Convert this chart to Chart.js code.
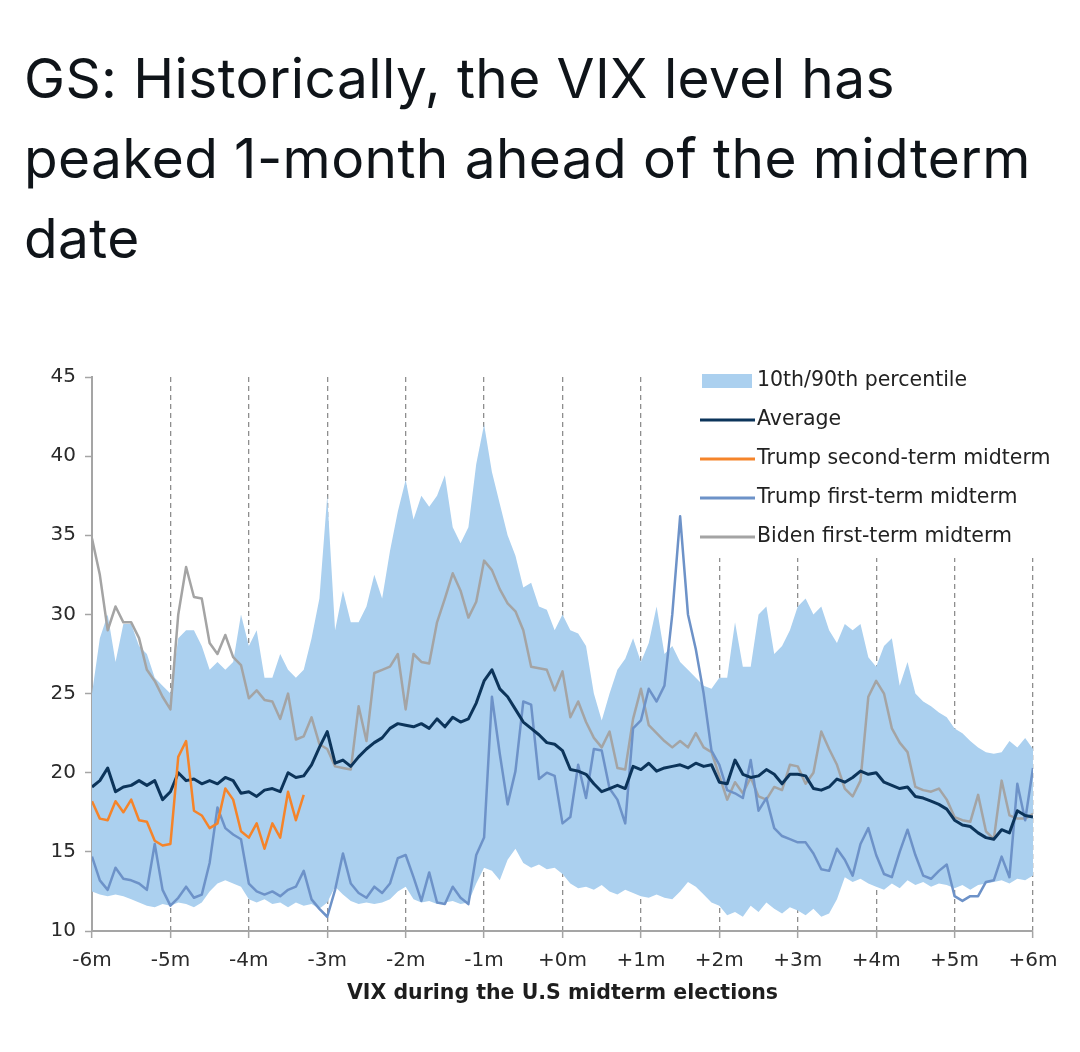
<!DOCTYPE html>
<html>
<head>
<meta charset="utf-8">
<script src="https://cdn.jsdelivr.net/npm/chart.js@4"></script>
<style>
  html, body { margin: 0; padding: 0; background: #fff; }
  body { width: 1080px; height: 1052px; position: relative; overflow: hidden; }
  #title {
    position: absolute; left: 24px; top: 38px;
    font-family: Inter, "Noto Sans", sans-serif; font-size: 55px; line-height: 80px;
    color: #0f1419; letter-spacing: 0.4px;
  }
  #chartBox { position: absolute; left: 30px; top: 355px; width: 1040px; height: 680px; }
</style>
</head>
<body>
<div id="title">GS: Historically, the VIX level has<br>peaked 1-month ahead of the midterm<br>date</div>
<div id="chartBox"><canvas id="vixChart" width="1040" height="680"></canvas></div>

<script>
// x runs from -6m to +6m in steps of 0.1 month
const startMonth = -6;
const monthStep = 0.1;
const monthLabels = ["-6m", "-5m", "-4m", "-3m", "-2m", "-1m", "+0m", "+1m", "+2m", "+3m", "+4m", "+5m", "+6m"];

const pct90 = [
  25, 28.5, 30, 27, 29.4, 29.4, 28, 27.5, 26, 25.5,
  25, 28.5, 29, 29, 28, 26.5, 27, 26.5, 27, 30,
  28, 29, 26, 26, 27.5, 26.5, 26, 26.5, 28.5, 31,
  37.5, 29, 31.5, 29.5, 29.5, 30.5, 32.5, 31, 34, 36.5,
  38.5, 36, 37.5, 36.8, 37.5, 38.8, 35.5, 34.5, 35.5, 39.5,
  42, 39, 37, 35, 33.7, 31.7, 32, 30.5, 30.3, 29,
  30, 29, 28.8, 28, 25, 23.3, 25, 26.5, 27.2, 28.5,
  27, 28.2, 30.5, 27.5, 28, 27, 26.5, 26, 25.5, 25.3,
  26, 26, 29.5, 26.7, 26.7, 30, 30.5, 27.5, 28, 29,
  30.5, 31, 30, 30.5, 29, 28.2, 29.4, 29, 29.4, 27.3,
  26.7, 28, 28.5, 25.5, 27, 25, 24.5, 24.2, 23.8, 23.5,
  22.8, 22.5, 22, 21.6, 21.3, 21.2, 21.3, 22, 21.6, 22.2,
  21.5
];

const pct10 = [
  12.5, 12.3, 12.2, 12.3, 12.2, 12.0, 11.8, 11.6, 11.5, 11.7,
  11.6, 11.8, 11.7, 11.5, 11.8, 12.5, 13.0, 13.2, 13.0, 12.8,
  12.0, 11.8, 12.0, 11.7, 11.8, 11.5, 11.8, 11.6, 11.7, 11.4,
  11.8, 12.8, 12.3, 11.9, 11.7, 11.8, 11.7, 11.8, 12.0, 12.5,
  12.8, 12.0, 11.8, 11.9, 11.7, 11.8, 11.9, 11.7, 11.8, 13.0,
  14.0, 13.8, 13.2, 14.5, 15.2, 14.3, 14.0, 14.2, 13.9, 14.0,
  13.6, 13.0, 12.7, 12.8, 12.6, 12.9, 12.5, 12.3, 12.6, 12.4,
  12.2, 12.1, 12.3, 12.1, 12.0, 12.5, 13.1, 12.8, 12.3, 11.8,
  11.6, 11.0, 11.2, 10.9, 11.6, 11.2, 11.8, 11.4, 11.1, 11.5,
  11.3, 11.0, 11.4, 10.9, 11.1, 12.0, 13.4, 13.1, 13.3, 13.0,
  12.8, 12.6, 13.0, 12.7, 13.2, 12.9, 13.1, 12.8, 13.0, 12.9,
  12.7, 12.9, 12.6, 12.9, 13.0, 13.1, 13.2, 13.0, 13.3, 13.2,
  13.5
];

const average = [
  19.1, 19.5, 20.3, 18.8, 19.1, 19.2, 19.5, 19.2, 19.5, 18.3,
  18.8, 20.0, 19.5, 19.6, 19.3, 19.5, 19.3, 19.7, 19.5, 18.7,
  18.8, 18.5, 18.9, 19.0, 18.8, 20.0, 19.7, 19.8, 20.5, 21.6,
  22.6, 20.6, 20.8, 20.4, 21.0, 21.5, 21.9, 22.2, 22.8, 23.1,
  23.0, 22.9, 23.1, 22.8, 23.4, 22.9, 23.5, 23.2, 23.4, 24.4,
  25.8, 26.5, 25.3, 24.8, 24.0, 23.2, 22.8, 22.4, 21.9, 21.8,
  21.4, 20.2, 20.1, 19.9, 19.3, 18.8, 19.0, 19.2, 19.0, 20.4,
  20.2, 20.6, 20.1, 20.3, 20.4, 20.5, 20.3, 20.6, 20.4, 20.5,
  19.4, 19.3, 20.8, 19.9, 19.7, 19.8, 20.2, 19.9, 19.3, 19.9,
  19.9, 19.8, 19.0, 18.9, 19.1, 19.6, 19.4, 19.7, 20.1, 19.9,
  20.0, 19.4, 19.2, 19.0, 19.1, 18.5, 18.4, 18.2, 18.0, 17.7,
  17.0, 16.7, 16.6, 16.2, 15.9, 15.8, 16.4, 16.2, 17.6, 17.3,
  17.2
];

// only runs to about -3.3m
const trumpSecond = [
  18.2, 17.1, 17.0, 18.2, 17.5, 18.3, 17.0, 16.9, 15.7, 15.4,
  15.5, 21.0, 22.0, 17.6, 17.3, 16.5, 16.8, 19.0, 18.3, 16.3,
  15.9, 16.8, 15.2, 16.8, 15.9, 18.8, 17.0, 18.6
];

const trumpFirst = [
  14.7, 13.2, 12.6, 14.0, 13.3, 13.2, 13.0, 12.6, 15.5, 12.6,
  11.6, 12.1, 12.8, 12.1, 12.3, 14.3, 17.8, 16.5, 16.1, 15.8,
  13.0, 12.5, 12.3, 12.5, 12.2, 12.6, 12.8, 13.8, 12.0, 11.4,
  10.9, 12.6, 14.9, 13.0, 12.4, 12.1, 12.8, 12.4, 13.0, 14.6,
  14.8, 13.4, 11.9, 13.7, 11.8, 11.7, 12.8, 12.1, 11.7, 14.8,
  15.9, 24.8, 21.2, 18.0, 20.1, 24.5, 24.3, 19.6, 20.0, 19.8,
  16.8, 17.2, 20.5, 18.4, 21.5, 21.4, 19.0, 18.3, 16.8, 22.8,
  23.3, 25.3, 24.5, 25.5, 30.0, 36.2, 30.0, 27.8, 25.0, 21.4,
  20.5, 18.9, 18.7, 18.4, 20.8, 17.6, 18.4, 16.5, 16.0, 15.8,
  15.6, 15.6, 14.9, 13.9, 13.8, 15.2, 14.5, 13.5, 15.5, 16.5,
  14.8, 13.6, 13.4, 15.0, 16.4, 14.8, 13.5, 13.3, 13.8, 14.2,
  12.2, 11.9, 12.2, 12.2, 13.1, 13.2, 14.7, 13.4, 19.3, 17.0,
  20.3
];

const bidenFirst = [
  34.8, 32.5, 29.0, 30.5, 29.5, 29.5, 28.5, 26.5, 25.8, 24.8,
  24.0, 30.0, 33.0, 31.1, 31.0, 28.2, 27.5, 28.7, 27.3, 26.8,
  24.7, 25.2, 24.6, 24.5, 23.4, 25.0, 22.1, 22.3, 23.5, 21.8,
  21.5, 20.4, 20.3, 20.2, 24.2, 22.0, 26.3, 26.5, 26.7, 27.5,
  24.0, 27.5, 27.0, 26.9, 29.5, 31.0, 32.6, 31.5, 29.8, 30.8,
  33.4, 32.8, 31.6, 30.7, 30.2, 29.0, 26.7, 26.6, 26.5, 25.2,
  26.4, 23.5, 24.5, 23.2, 22.2, 21.6, 22.6, 20.3, 20.2, 23.4,
  25.3, 23.0, 22.5, 22.0, 21.6, 22.0, 21.6, 22.5, 21.6, 21.3,
  19.8, 18.3, 19.4, 18.7, 19.7, 18.5, 18.3, 19.1, 18.9, 20.5,
  20.4, 19.3, 20.0, 22.6, 21.5, 20.5, 19.0, 18.5, 19.5, 24.8,
  25.8, 25.0, 22.8, 21.9, 21.3, 19.1, 18.9, 18.8, 19.0, 18.3,
  17.2, 17.0, 16.9, 18.6, 16.3, 15.8, 19.5, 17.3, 17.1, 17.1,
  17.4
];

function toPoints(values) {
    return values.map((v, i) => ({ x: startMonth + i * monthStep, y: v }));
}

const bandColor = "#abd0ef";
const axisGray = "#a5a5a5";

// legend drawn inside the plot, on a white box, like the original
const boxLegend = {
    id: "boxLegend",
    afterDraw(chart) {
        const ctx = chart.ctx;
        ctx.save();
        ctx.fillStyle = "#fff";
        ctx.fillRect(660, 10, 380, 193);
        ctx.font = '20.5px "DejaVu Sans"';
        ctx.textBaseline = "middle";
        let y = 26;
        chart.data.datasets.forEach(ds => {
            if (!ds.label) return;
            if (ds.fill) {
                ctx.fillStyle = ds.backgroundColor;
                ctx.fillRect(672, y - 7, 50, 14);
            } else {
                ctx.strokeStyle = ds.borderColor;
                ctx.lineWidth = 3;
                ctx.beginPath();
                ctx.moveTo(670, y);
                ctx.lineTo(725, y);
                ctx.stroke();
            }
            ctx.fillStyle = "#222";
            ctx.fillText(ds.label, 727, y);
            y += 39;
        });
        ctx.restore();
    }
};

Chart.defaults.font.family = '"DejaVu Sans", sans-serif';
Chart.defaults.color = "#2a2a2a";

function lineSet(label, values, color, width, order) {
    return {
        label: label,
        data: toPoints(values),
        borderColor: color,
        backgroundColor: color,
        borderWidth: width,
        pointRadius: 0,
        tension: 0,
        borderJoinStyle: "round",
        fill: false,
        order: order
    };
}

new Chart(document.getElementById("vixChart"), {
    type: "line",
    data: {
        datasets: [
            {
                label: "10th/90th percentile",
                data: toPoints(pct90),
                borderWidth: 0,
                borderColor: bandColor,
                backgroundColor: bandColor,
                pointRadius: 0,
                fill: "+1",
                order: 10
            },
            {
                label: "",
                data: toPoints(pct10),
                borderWidth: 0,
                borderColor: bandColor,
                pointRadius: 0,
                fill: false,
                order: 10
            },
            lineSet("Average", average, "#0c345a", 3, 1),
            lineSet("Trump second-term midterm", trumpSecond, "#f5842a", 2.5, 0),
            lineSet("Trump first-term midterm", trumpFirst, "#6d92c8", 2.5, 2),
            lineSet("Biden first-term midterm", bidenFirst, "#a4a4a4", 2.5, 3)
        ]
    },
    options: {
        responsive: false,
        animation: false,
        devicePixelRatio: 1,
        layout: { padding: { left: 0, top: 22, right: 37, bottom: 29 } },
        plugins: {
            legend: { display: false },
            tooltip: { enabled: false }
        },
        scales: {
            x: {
                type: "linear",
                min: -6,
                max: 6,
                afterFit: s => { s.height = 75; },
                ticks: {
                    stepSize: 1,
                    padding: 11,
                    font: { size: 20 },
                    color: "#2a2a2a",
                    callback: v => monthLabels[Math.round(v) + 6]
                },
                grid: {
                    color: "#8e8e8e",
                    lineWidth: 1.3,
                    borderDash: [5, 4],
                    tickLength: 7,
                    tickColor: axisGray,
                    tickWidth: 1.5
                },
                border: { color: axisGray, width: 2, dash: [5, 4] },
                title: {
                    display: true,
                    text: "VIX during the U.S midterm elections",
                    font: { size: 20.5, weight: "bold" },
                    color: "#1e1e1e",
                    padding: 0
                }
            },
            y: {
                min: 10,
                max: 45,
                afterFit: s => { s.width = 62; },
                ticks: {
                    stepSize: 5,
                    padding: 9,
                    font: { size: 20 },
                    color: "#2a2a2a"
                },
                grid: {
                    drawOnChartArea: false,
                    tickLength: 7,
                    tickColor: axisGray,
                    tickWidth: 1.5
                },
                border: { color: axisGray, width: 2 }
            }
        }
    },
    plugins: [boxLegend]
});
</script>
</body>
</html>
